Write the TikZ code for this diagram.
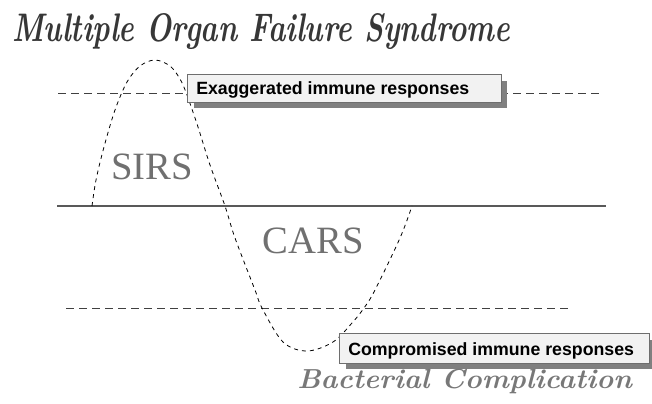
\documentclass[tikz,border=0pt]{standalone}
\usepackage{fontspec}
\newfontfamily\arialf{Liberation Sans}
\newfontfamily\timesf{Liberation Serif}
\definecolor{boxfill}{RGB}{242,242,242}
\definecolor{boxline}{RGB}{110,110,110}
\definecolor{shadowc}{RGB}{128,128,128}
\definecolor{stagec}{RGB}{112,112,112}
\definecolor{titlec}{RGB}{55,55,55}
\definecolor{subc}{RGB}{120,120,120}
\begin{document}
\begin{tikzpicture}[x=0.75pt,y=-0.75pt,
  levelline/.style={draw=black!75,line width=0.7pt,dash pattern=on 6pt off 3.75pt},
  baseline0/.style={draw=black!65,line width=1pt},
  curveline/.style={draw=black,line width=0.6pt,dash pattern=on 3pt off 3pt},
  shadowbox/.style={fill=shadowc,draw=none},
  labelbox/.style={fill=boxfill,draw=boxline,line width=0.6pt},
  boxtext/.style={font=\arialf\bfseries\fontsize{13.3}{16}\selectfont,inner sep=0pt,anchor=base west},
  stagetext/.style={font=\timesf\fontsize{29}{34}\selectfont,text=stagec,inner sep=0pt,anchor=base},
  scripttext/.style={inner sep=0pt,anchor=base west}]
\useasboundingbox (0,0) rectangle (652,403);
% title
\node[scripttext,text=titlec] (title) at (12,42)
  {\resizebox{373.5pt}{21pt}{\bfseries\itshape Multiple Organ Failure Syndrome}};
% level lines
\draw[levelline] (58,93) -- (599,93);
\draw[baseline0] (57,206) -- (606,206);
\draw[levelline] (66,308) -- (573,308);
% response curve
\draw[curveline] plot[smooth,tension=0.55] coordinates {
  (92,206) (96,180) (104,147) (115,110) (127,82) (140,66) (155,60)
  (170,66) (180,79) (187,95) (198,127) (210,165) (225,206) (235,238)
  (255,290) (262,308) (283,342) (307,351) (333,342) (352,323) (364,308)
  (375,290) (400,238) (412,206)};
% stage labels
\node[stagetext] (sirs) at (152,179) {SIRS};
\node[stagetext] (cars) at (313,253) {CARS};
% boxes
\fill[shadowbox] (194,81) rectangle (507,108);
\draw[labelbox] (187,74) rectangle (501,102);
\node[boxtext] (exag) at (196,94.5) {Exaggerated immune responses};
\fill[shadowbox] (346,340) rectangle (652,369);
\draw[labelbox] (339,333) rectangle (649,363);
\node[boxtext] (comp) at (348,355) {Compromised immune responses};
% bottom script text
\node[scripttext,text=subc] (bact) at (297,388)
  {\resizebox{251pt}{14.5pt}{\bfseries\itshape Bacterial Complication}};
\end{tikzpicture}
\end{document}
